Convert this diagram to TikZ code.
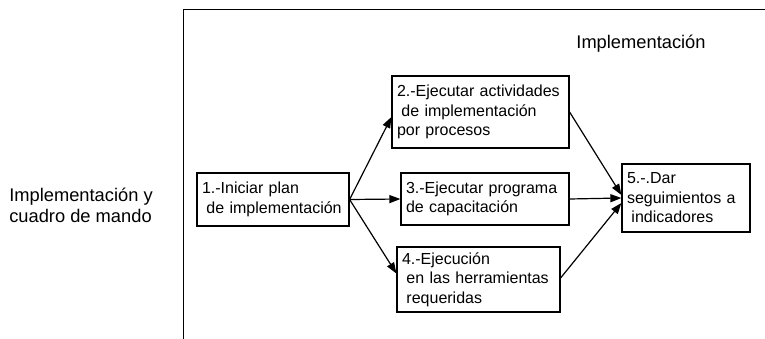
\documentclass[tikz,border=0pt]{standalone}
\usepackage{fontspec}
\setmainfont{Liberation Sans}
\usetikzlibrary{arrows.meta}
\begin{document}
\begin{tikzpicture}[x=1pt,y=-1pt,
  every node/.style={font=\fontsize{16}{19.5}\selectfont},
  bigtext/.style={font=\fontsize{18.3}{21}\selectfont},
  stepbox/.style={draw,line width=1.2pt,align=left,inner xsep=5pt,inner ysep=0pt,anchor=center},
  arr/.style={line width=1.2pt,-{Triangle[length=11pt,width=8pt]}}
]
\useasboundingbox (0,0) rectangle (765,339);
\draw[line width=1pt] (183,339) -- (183,10) -- (766,10);
\node[bigtext] (title) at (641,44) {Implementación};
\node[align=left,bigtext] (side) at (81,205) {Implementación y\\cuadro de mando};
\node[stepbox,text width=142pt,minimum height=53pt] (b1) at (273,199.5) {1.-Iniciar plan\\\hspace{0.28em}de implementación};
\node[stepbox,text width=167pt,minimum height=72pt] (b2) at (480.5,112) {2.-Ejecutar actividades\\\hspace{0.28em}de implementación\\por procesos};
\node[stepbox,text width=158pt,minimum height=52pt] (b3) at (485,199) {3.-Ejecutar programa\\de capacitación};
\node[stepbox,text width=153pt,minimum height=65pt] (b4) at (478.5,279.5) {4.-Ejecución\\\hspace{0.28em}en las herramientas\\\hspace{0.28em}requeridas};
\node[stepbox,text width=118pt,minimum height=68pt] (b5) at (686,198) {5.-.Dar\\seguimientos a\\\hspace{0.28em}indicadores};
\draw[arr] (b1.east) -- ([yshift=-5pt]b2.west);
\draw[arr] (b1.east) -- (b3.west);
\draw[arr] (b1.east) -- ([yshift=6pt]b4.west);
\draw[arr] (b2.east) -- ([yshift=3pt]b5.west);
\draw[arr] (b3.east) -- (b5.west);
\draw[arr] ([yshift=1.5pt]b4.east) -- ([yshift=-5pt]b5.west);
\end{tikzpicture}
\end{document}
